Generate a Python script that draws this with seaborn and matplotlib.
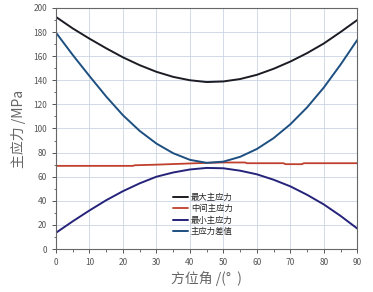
import numpy as np
import pandas as pd
import seaborn as sns
import matplotlib.pyplot as plt
from matplotlib.ticker import MultipleLocator

# 方位角 (°)
angle = [0, 5, 10, 15, 20, 25, 30, 35, 40, 45, 50, 55, 60, 65, 70, 75, 80, 85, 90]

# 最大主应力
s_max = [192.5, 183, 174.5, 166.5, 159, 152.5, 147, 142.8, 140, 138.5, 139,
         141, 144.5, 149.5, 155.5, 162.5, 170.5, 180, 190]
# 最小主应力
s_min = [13.5, 23, 32, 40.5, 48, 54.5, 60, 63.5, 66, 67.3, 67, 65, 62,
         57.5, 52, 45, 37, 27.5, 17]
# 主应力差值
s_diff = [179.5, 161, 143.5, 126.5, 111, 98, 87.5, 79.5, 74, 71.5, 72.5, 76.5,
          83, 92, 103.5, 117.5, 134, 153, 173.5]

# 中间主应力 (近似水平, 带小台阶)
mid_angle = [0, 23, 23.5, 30, 35, 40, 45, 50, 56.5, 57, 68, 68.5, 73.5, 74, 90]
s_mid = [69, 69, 69.5, 70, 70.5, 71, 71.5, 71.8, 71.8, 71.2, 71.2, 70.4, 70.4,
         71.2, 71.2]

labels = ["最大主应力", "中间主应力", "最小主应力", "主应力差值"]
colors = ["#1c1c24", "#c0402e", "#25237a", "#1d4f80"]

sns.set_theme(style="ticks")
plt.rcParams['font.family'] = ['Noto Sans CJK SC', 'DejaVu Sans']

fig = plt.figure(figsize=(3.73, 2.92), dpi=100)
ax = fig.add_axes([0.150, 0.147, 0.808, 0.826])

sns.lineplot(x=angle, y=s_max, ax=ax, color=colors[0], lw=1.4, label=labels[0])
sns.lineplot(x=mid_angle, y=s_mid, ax=ax, color=colors[1], lw=1.3, label=labels[1])
sns.lineplot(x=angle, y=s_min, ax=ax, color=colors[2], lw=1.4, label=labels[2])
sns.lineplot(x=angle, y=s_diff, ax=ax, color=colors[3], lw=1.4, label=labels[3])

ax.set_xlim(0, 90)
ax.set_ylim(0, 200)
ax.xaxis.set_major_locator(MultipleLocator(10))
ax.xaxis.set_minor_locator(MultipleLocator(5))
ax.yaxis.set_major_locator(MultipleLocator(20))
ax.yaxis.set_minor_locator(MultipleLocator(10))
ax.grid(True, which='major', color='#ccd4e4', lw=0.6)
ax.tick_params(which='major', direction='out', length=3, width=0.7,
               labelsize=6, colors='#555555', labelcolor='#555555')
ax.tick_params(which='minor', direction='out', length=1.8, width=0.6, colors='#555555')
for sp in ax.spines.values():
    sp.set_visible(True)
    sp.set_color('#666666')
    sp.set_linewidth(0.8)

ax.set_xlabel("方位角 /(°  )", fontsize=10, color='#666666', labelpad=3)
ax.set_ylabel("主应力 /MPa", fontsize=10, color='#666666', labelpad=5)

leg = ax.legend(loc='lower left', bbox_to_anchor=(0.37, 0.03), frameon=False,
                fontsize=6, handlelength=1.8, handletextpad=0.3, labelspacing=0.3,
                borderpad=0.2)
for t in leg.get_texts():
    t.set_color('#222222')

fig.savefig("out.png", dpi=100)
